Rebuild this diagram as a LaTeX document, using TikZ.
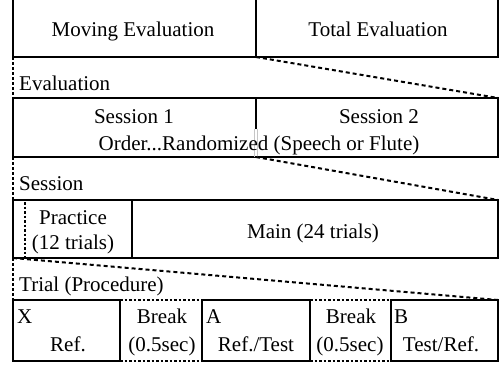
\documentclass[tikz,border=0pt]{standalone}
\usepackage{fontspec}
\setmainfont{Liberation Serif}
\begin{document}
\begin{tikzpicture}[x=1pt,y=-1pt,
  box/.style={draw, rectangle, inner sep=0pt, outer sep=0pt, line width=2pt, anchor=north west},
  cell/.style={rectangle, inner sep=0pt, outer sep=0pt, anchor=north west},
  zoomline/.style={line width=2pt, dash pattern=on 4pt off 3pt},
  guide/.style={line width=2pt, dash pattern=on 3pt off 2pt},
  brkline/.style={line width=1.8pt, dash pattern=on 2.5pt off 2pt},
  lbl/.style={inner sep=0pt, anchor=base, font=\fontsize{21}{25}\selectfont},
  lbll/.style={lbl, anchor=base west}]
\useasboundingbox (0,0) rectangle (503,367);
% top row
\node[box, minimum width=243pt, minimum height=67pt] (moving) at (13,-10) {};
\node[box, minimum width=242pt, minimum height=67pt] (total) at (256,-10) {};
\node[lbl] (tmoving) at (133,36) {Moving Evaluation};
\node[lbl] (ttotal) at (378,36) {Total Evaluation};
% evaluation
\node[lbll] (levaluation) at (19,90) {Evaluation};
\node[box, minimum width=485pt, minimum height=59pt] (evalbox) at (13,98) {};
\coordinate (dtop) at (256,98);
\coordinate (dmid) at (256,129);
\coordinate (ga1) at (254.3,129);
\coordinate (ga2) at (254.3,157);
\coordinate (gb1) at (257.3,129);
\coordinate (gb2) at (257.3,157);
\draw[line width=2pt] (dtop) -- (dmid);
\draw[gray!45, line width=0.5pt] (ga1) -- (ga2) (gb1) -- (gb2);
\node[lbl] (ts1) at (134,123) {Session 1};
\node[lbl] (ts2) at (379,123) {Session 2};
\node[lbl] (torder) at (259,150) {Order...Randomized (Speech or Flute)};
% session
\node[lbll] (lsession) at (19,190) {Session};
\node[box, minimum width=119pt, minimum height=58pt] (practice) at (13,200) {};
\node[box, minimum width=366pt, minimum height=58pt] (main) at (132,200) {};
\coordinate (pd1) at (25,202);
\coordinate (pd2) at (25,257);
\draw[line width=1.8pt, dash pattern=on 2.5pt off 2pt] (pd1) -- (pd2);
\node[lbl] (tpractice) at (73,224) {Practice};
\node[lbl] (ttrials12) at (73,249) {(12 trials)};
\node[lbl] (tmain) at (313,238) {Main (24 trials)};
% trial
\node[lbll] (ltrial) at (19,291) {Trial (Procedure)};
\node[box, minimum width=107pt, minimum height=61pt] (X) at (13,300) {};
\node[cell, minimum width=82pt, minimum height=61pt] (brk1) at (120,300) {};
\node[box, minimum width=108pt, minimum height=61pt] (A) at (202,300) {};
\node[cell, minimum width=81pt, minimum height=61pt] (brk2) at (310,300) {};
\node[box, minimum width=107pt, minimum height=61pt] (B) at (391,300) {};
\draw[brkline] (brk1.north west) -- (brk1.north east);
\draw[brkline] (brk1.south west) -- (brk1.south east);
\draw[brkline] (brk2.north west) -- (brk2.north east);
\draw[brkline] (brk2.south west) -- (brk2.south east);
\node[lbll] (tx) at (17,323) {X};
\node[lbl] (tref) at (68,351) {Ref.};
\node[lbl] (tbreak1) at (162,323) {Break};
\node[lbl] (tsec1) at (162,351) {(0.5sec)};
\node[lbll] (ta) at (206,323) {A};
\node[lbl] (treftest) at (256,351) {Ref./Test};
\node[lbl] (tbreak2) at (351,323) {Break};
\node[lbl] (tsec2) at (350,351) {(0.5sec)};
\node[lbll] (tb) at (394,323) {B};
\node[lbl] (ttestref) at (441,351) {Test/Ref.};
% zoom connectors
\coordinate (evsplit) at (256,157);
\draw[zoomline] (moving.south east) -- (evalbox.north east);
\draw[guide] (moving.south west) -- (evalbox.north west);
\draw[zoomline] (evsplit) -- (main.north east);
\draw[guide] (evalbox.south west) -- (practice.north west);
\draw[zoomline] (practice.south west) -- (B.north east);
\draw[guide] (practice.south west) -- (X.north west);
\end{tikzpicture}
\end{document}
